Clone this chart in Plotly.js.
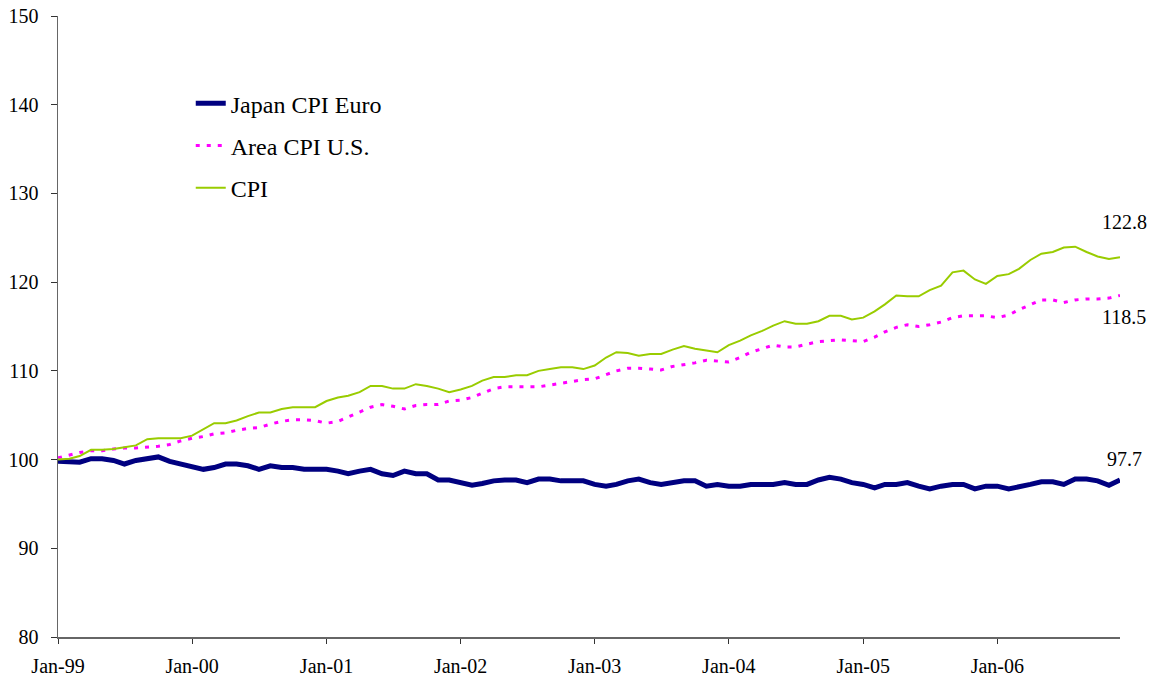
<!DOCTYPE html>
<html>
<head>
<meta charset="utf-8">
<script src="https://cdn.plot.ly/plotly-3.0.1.min.js"></script>
<style>html,body{margin:0;padding:0;background:#fff;}#chart{width:1158px;height:679px;}</style>
</head>
<body>
<div id="chart"></div>
<script>
// Monthly series, Jan-1999 .. Dec-2006 (index 1999-01 = 100)
const startYear = 1999;
const nMonths = 96;
const seriesNames = ["Japan CPI Euro", "Area CPI U.S.", "CPI"];

const japanCPI = [
  99.8, 99.8, 99.7, 100.1, 100.1, 99.9, 99.5, 99.9, 100.1, 100.3, 99.8, 99.5,
  99.2, 98.9, 99.1, 99.5, 99.5, 99.3, 98.9, 99.3, 99.1, 99.1, 98.9, 98.9,
  98.9, 98.7, 98.4, 98.7, 98.9, 98.4, 98.2, 98.7, 98.4, 98.4, 97.7, 97.7,
  97.4, 97.1, 97.3, 97.6, 97.7, 97.7, 97.4, 97.8, 97.8, 97.6, 97.6, 97.6,
  97.2, 97.0, 97.2, 97.6, 97.8, 97.4, 97.2, 97.4, 97.6, 97.6, 97.0, 97.2,
  97.0, 97.0, 97.2, 97.2, 97.2, 97.4, 97.2, 97.2, 97.7, 98.0, 97.8, 97.4,
  97.2, 96.8, 97.2, 97.2, 97.4, 97.0, 96.7, 97.0, 97.2, 97.2, 96.7, 97.0,
  97.0, 96.7, 97.0, 97.2, 97.5, 97.5, 97.2, 97.8, 97.8, 97.6, 97.1, 97.7
];

const euroAreaCPI = [
  100.2, 100.5, 100.8, 101.0, 101.0, 101.2, 101.3, 101.3, 101.4, 101.5, 101.7, 102.1,
  102.4, 102.6, 102.9, 103.0, 103.3, 103.5, 103.6, 104.0, 104.3, 104.5, 104.5, 104.4,
  104.1, 104.3, 104.8, 105.4, 105.9, 106.2, 106.0, 105.7, 106.1, 106.2, 106.2, 106.6,
  106.7, 107.0, 107.5, 108.0, 108.2, 108.2, 108.2, 108.2, 108.4, 108.6, 108.8, 109.0,
  109.1, 109.6, 110.0, 110.3, 110.3, 110.2, 110.1, 110.5, 110.7, 110.9, 111.2, 111.1,
  111.0, 111.5, 112.1, 112.5, 112.9, 112.7, 112.7, 113.0, 113.3, 113.4, 113.5, 113.4,
  113.3, 113.8, 114.4, 114.9, 115.2, 115.0, 115.2, 115.5, 116.0, 116.2, 116.2, 116.2,
  116.0, 116.3, 116.9, 117.5, 118.0, 118.0, 117.7, 118.0, 118.1, 118.1, 118.2, 118.5
];

const usCPI = [
  100.0, 100.1, 100.4, 101.1, 101.1, 101.2, 101.4, 101.6, 102.3, 102.4, 102.4, 102.4,
  102.7, 103.4, 104.1, 104.1, 104.4, 104.9, 105.3, 105.3, 105.7, 105.9, 105.9, 105.9,
  106.6, 107.0, 107.2, 107.6, 108.3, 108.3, 108.0, 108.0, 108.5, 108.3, 108.0, 107.6,
  107.9, 108.3, 108.9, 109.3, 109.3, 109.5, 109.5, 110.0, 110.2, 110.4, 110.4, 110.2,
  110.6, 111.5, 112.1, 112.0, 111.7, 111.9, 111.9, 112.4, 112.8, 112.5, 112.3, 112.1,
  112.9, 113.4, 114.0, 114.5, 115.1, 115.6, 115.3, 115.3, 115.6, 116.2, 116.2, 115.8,
  116.0, 116.7, 117.5, 118.5, 118.4, 118.4, 119.1, 119.6, 121.1, 121.3, 120.3, 119.8,
  120.7, 120.9, 121.5, 122.5, 123.2, 123.4, 123.9, 124.0, 123.4, 122.9, 122.6, 122.8
];

// month dates (categories)
const months = [];
for (let i = 0; i < nMonths; i++) {
  const y = startYear + Math.floor(i / 12);
  const m = (i % 12) + 1;
  months.push(y + "-" + (m < 10 ? "0" + m : m) + "-01");
}
const yTicks = [80, 90, 100, 110, 120, 130, 140, 150];
const xTicks = ["1999-01-01","2000-01-01","2001-01-01","2002-01-01","2003-01-01","2004-01-01","2005-01-01","2006-01-01"];
const xTickLabels = ["Jan-99","Jan-00","Jan-01","Jan-02","Jan-03","Jan-04","Jan-05","Jan-06"];

const FONT = "Liberation Serif";

const traces = [
  {x: months, y: japanCPI, name: seriesNames[0], type: "scatter", mode: "lines",
   line: {color: "#000080", width: 5}, legendgroup: "a"},
  {x: months, y: euroAreaCPI, name: seriesNames[1], type: "scatter", mode: "lines",
   line: {color: "#ff00ff", width: 3, dash: "4px,7px"}, legendgroup: "b"},
  {x: months, y: usCPI, name: seriesNames[2], type: "scatter", mode: "lines",
   line: {color: "#99cc00", width: 2}, legendgroup: "c"}
];

const last = nMonths - 1;
const endLabels = [
  {x: months[last], y: usCPI[last], text: usCPI[last].toFixed(1), yshift: 35, xshift: 4},
  {x: months[last], y: euroAreaCPI[last], text: euroAreaCPI[last].toFixed(1), yshift: -22, xshift: 4},
  {x: months[last], y: japanCPI[last], text: japanCPI[last].toFixed(1), yshift: 21, xshift: 4}
].map(a => Object.assign({showarrow: false, xref: "x", yref: "y",
   font: {family: FONT, size: 20, color: "#000"}}, a));

const layout = {
  width: 1158, height: 679,
  margin: {l: 58, r: 38, t: 16, b: 42},
  paper_bgcolor: "#fff", plot_bgcolor: "#fff",
  font: {family: FONT, size: 20, color: "#000"},
  showlegend: true,
  legend: {x: 0.125, xanchor: "left", y: 0.895, yanchor: "top",
           font: {family: FONT, size: 24, color: "#000"},
           bgcolor: "rgba(0,0,0,0)", tracegroupgap: 8},
  xaxis: {type: "date", range: [months[0], months[last]],
          tickmode: "array", tickvals: xTicks, ticktext: xTickLabels,
          showgrid: false, zeroline: false,
          showline: true, linecolor: "#666", linewidth: 1.5,
          ticks: "outside", ticklen: 5, tickcolor: "#333", tickwidth: 1,
          ticklabelstandoff: 5,
          tickfont: {family: FONT, size: 20, color: "#000"}},
  yaxis: {range: [80, 150], tickmode: "array", tickvals: yTicks,
          showgrid: false, zeroline: false,
          showline: true, linecolor: "#666", linewidth: 1.5,
          ticks: "outside", ticklen: 6, tickcolor: "#333", tickwidth: 1,
          ticklabelstandoff: 8,
          tickfont: {family: FONT, size: 20, color: "#000"}},
  annotations: endLabels
};

Plotly.newPlot("chart", traces, layout, {displayModeBar: false, staticPlot: true});
</script>
</body>
</html>
